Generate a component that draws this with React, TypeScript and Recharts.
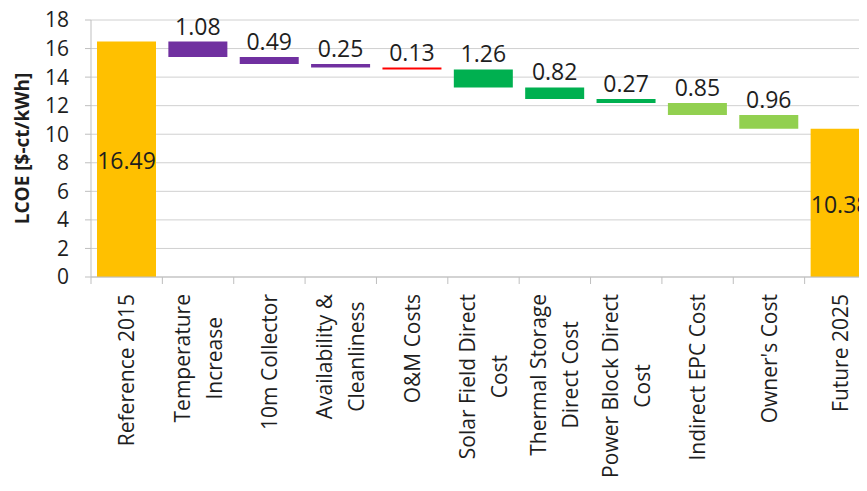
import { BarChart, Bar, XAxis, YAxis, CartesianGrid, Cell, LabelList } from "recharts";

const categories = [
  "Reference 2015",
  "Temperature Increase",
  "10m Collector",
  "Availability & Cleanliness",
  "O&M Costs",
  "Solar Field Direct Cost",
  "Thermal Storage Direct Cost",
  "Power Block Direct Cost",
  "Indirect EPC Cost",
  "Owner's Cost",
  "Future 2025",
];

const labelLines = [
  ["Reference 2015"],
  ["Temperature", "Increase"],
  ["10m Collector"],
  ["Availability &", "Cleanliness"],
  ["O&M Costs"],
  ["Solar Field Direct", "Cost"],
  ["Thermal Storage", "Direct Cost"],
  ["Power Block Direct", "Cost"],
  ["Indirect EPC Cost"],
  ["Owner's Cost"],
  ["Future 2025"],
];

const amounts = [16.49, 1.08, 0.49, 0.25, 0.13, 1.26, 0.82, 0.27, 0.85, 0.96, 10.38];
const isTotal = [true, false, false, false, false, false, false, false, false, false, true];
const barColors = [
  "#ffc000",
  "#7030a0",
  "#7030a0",
  "#7030a0",
  "#ff0000",
  "#00b050",
  "#00b050",
  "#00b050",
  "#92d050",
  "#92d050",
  "#ffc000",
];
const yTicks = [0, 2, 4, 6, 8, 10, 12, 14, 16, 18];

// waterfall: invisible base + visible step
let running = 0;
const data = categories.map((name, i) => {
  if (isTotal[i]) {
    running = amounts[i];
    return { name, base: 0, value: amounts[i] };
  }
  running = running - amounts[i];
  return { name, base: running, value: amounts[i] };
});

const FONT = "'Open Sans', 'Liberation Sans', sans-serif";
const TEXT = "#1e1e1e";
const AXIS = "#bfbfbf";

const ctx = typeof document !== "undefined" ? document.createElement("canvas").getContext("2d") : null;
function textWidth(s: string, size: number) {
  if (!ctx) return s.length * size * 0.55;
  ctx.font = `${size}px 'Open Sans'`;
  return ctx.measureText(s).width;
}

function XTick(props: any) {
  const { x, y, payload, width, visibleTicksCount } = props;
  const half = payload.offset || width / visibleTicksCount / 2;
  const lines = labelLines[payload.index] || [payload.value];
  const fs = 21;
  const lineH = 32;
  const longest = Math.max(...lines.map((l) => textWidth(l, fs)));
  const cy = y + 17 + longest / 2;
  const n = lines.length;
  return (
    <g>
      <line x1={x - half} x2={x - half} y1={y} y2={y + 7} stroke={AXIS} />
      {payload.index === categories.length - 1 && (
        <line x1={x + half} x2={x + half} y1={y} y2={y + 7} stroke={AXIS} />
      )}
      {lines.map((l, i) => {
        const dy = (i - (n - 1) / 2) * lineH + 0.36 * fs;
        return (
          <text
            key={i}
            x={x + dy}
            y={cy}
            transform={`rotate(-90, ${x + dy}, ${cy})`}
            textAnchor="middle"
            fontSize={fs}
            fontFamily={FONT}
            fill={TEXT}
          >
            {l}
          </text>
        );
      })}
    </g>
  );
}

function ValueLabel(props: any) {
  const { x, y, width, height, value, index } = props;
  const cx = x + width / 2;
  if (isTotal[index]) {
    return (
      <text x={cx} y={y + height / 2 + 10} textAnchor="middle" fontSize={23} fontFamily={FONT} fill={TEXT}>
        {value.toFixed(2)}
      </text>
    );
  }
  return (
    <text x={cx} y={y - 7} textAnchor="middle" fontSize={23} fontFamily={FONT} fill={TEXT}>
      {value.toFixed(2)}
    </text>
  );
}

function YTitle(props: any) {
  const { viewBox } = props;
  const cx = viewBox.x + 29;
  const cy = viewBox.y + viewBox.height / 2;
  return (
    <text
      x={cx}
      y={cy}
      transform={`rotate(-90, ${cx}, ${cy})`}
      textAnchor="middle"
      fontSize={19}
      fontWeight="bold"
      fontFamily={FONT}
      fill={TEXT}
    >
      LCOE [$-ct/kWh]
    </text>
  );
}

export default function App() {
  return (
    <div style={{ margin: -8, width: 867, height: 491, overflow: "hidden", background: "#fff" }}>
      <BarChart
        width={878}
        height={491}
        data={data}
        margin={{ top: 20, right: 2, bottom: 0, left: 0 }}
        barSize={59}
      >
        <CartesianGrid vertical={false} stroke="#d0d0d0" />
        <XAxis
          dataKey="name"
          interval={0}
          height={214}
          tickSize={0}
          tickMargin={0}
          tickLine={false}
          axisLine={{ stroke: AXIS }}
          tick={<XTick />}
        />
        <YAxis
          domain={[0, 18]}
          ticks={yTicks}
          interval={0}
          width={91}
          tickSize={6}
          tickMargin={16}
          axisLine={{ stroke: AXIS }}
          tickLine={{ stroke: AXIS }}
          tick={{ fontSize: 21, fontFamily: FONT, fill: TEXT }}
          label={<YTitle />}
        />
        <Bar dataKey="base" stackId="w" fill="transparent" isAnimationActive={false} />
        <Bar dataKey="value" stackId="w" isAnimationActive={false}>
          {data.map((_, i) => (
            <Cell key={i} fill={barColors[i]} />
          ))}
          <LabelList dataKey="value" content={<ValueLabel />} />
        </Bar>
      </BarChart>
    </div>
  );
}
